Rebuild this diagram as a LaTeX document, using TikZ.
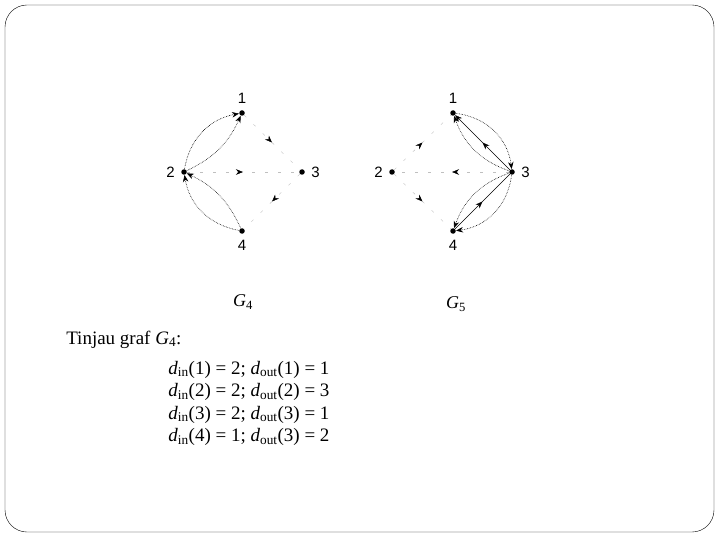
\documentclass[tikz,border=0pt]{standalone}
\usepackage{fontspec}
\setmainfont{Liberation Serif}
\newfontfamily\lblfont{Liberation Sans}
\usetikzlibrary{arrows.meta,positioning,decorations.markings}

\newcommand{\dIn}[1]{\textit{d}\textsubscript{in}(#1)}
\newcommand{\dOut}[1]{\textit{d}\textsubscript{out}(#1)}

\begin{document}
\begin{tikzpicture}[x=1pt, y=-1pt, on grid, semithick,
	tip/.tip={Stealth[length=7pt, width=5.5pt, black]},
	vtx/.style={circle, fill, inner sep=0pt, minimum size=5.5pt},
	lbl/.style={font=\lblfont\fontsize{15}{17}\selectfont, inner sep=1pt, label distance=5pt},
	arc/.style={-tip, draw=black, densely dotted, line width=0.6pt},
	faint/.style={draw=black!25, dash pattern=on 3pt off 10pt, thin},
	plain/.style={-tip, draw=black, thin},
	mid/.style={postaction={decorate}, decoration={markings, mark=at position 0.5 with {\arrow{tip}}}},
	txt/.style={anchor=base west, inner sep=0pt, font=\fontsize{19}{22}\selectfont}]
	\useasboundingbox (0,0) rectangle (720,540);
	\draw[thin, rounded corners=22pt] (5,5) rectangle (714,532);

	% graf G4
	\node[vtx, label={[lbl]above:1}] (a1) at (242,113) {};
	\node[vtx, label={[lbl]left:2}]  (a2) [below left=59pt and 58pt of a1] {};
	\node[vtx, label={[lbl]right:3}] (a3) [below right=59pt and 60pt of a1] {};
	\node[vtx, label={[lbl]below:4}] (a4) [below=118pt of a1] {};
	\path	(a2)	edge	[arc, bend left=35]		(a1)
			(a2)	edge	[arc, bend right=20]	(a1)
			(a4)	edge	[arc, bend left=35]		(a2)
			(a4)	edge	[arc, bend right=20]	(a2)
			(a1)	edge	[faint, mid]			(a3)
			(a2)	edge	[faint, mid]			(a3)
			(a3)	edge	[faint, mid]			(a4);
	\node[font=\fontsize{18}{20}\selectfont] (g4) at (243,302) {\textit{G}\textsubscript{4}};

	% graf G5
	\node[vtx, label={[lbl]above:1}] (b1) at (453,113) {};
	\node[vtx, label={[lbl]left:2}]  (b2) [below left=59pt and 61pt of b1] {};
	\node[vtx, label={[lbl]right:3}] (b3) [below right=59pt and 59pt of b1] {};
	\node[vtx, label={[lbl]below:4}] (b4) [below=118pt of b1] {};
	\path	(b2)	edge	[faint, mid]			(b1)
			(b2)	edge	[faint, mid]			(b4)
			(b3)	edge	[faint, mid]			(b2)
			(b1)	edge	[arc, bend left=38]		(b3)
			(b3)	edge	[arc, bend left=25]		(b1)
			(b3)	edge	[plain, mid]			(b1)
			(b3)	edge	[arc, bend left=38]		(b4)
			(b3)	edge	[arc, bend right=25]	(b4)
			(b4)	edge	[plain, -, mid]			(b3);
	\node[font=\fontsize{18}{20}\selectfont] (g5) at (456,304) {\textit{G}\textsubscript{5}};

	% derajat
	\node[txt] (tj) at (66,344) {Tinjau graf \textit{G}\textsubscript{4}:};
	\node[txt] (d1) at (168,374) {\dIn{1} = 2; \dOut{1} = 1};
	\node[txt] (d2) at (168,396.5) {\dIn{2} = 2; \dOut{2} = 3};
	\node[txt] (d3) at (168,419) {\dIn{3} = 2; \dOut{3} = 1};
	\node[txt] (d4) at (168,441.5) {\dIn{4} = 1; \dOut{3} = 2};
\end{tikzpicture}
\end{document}
